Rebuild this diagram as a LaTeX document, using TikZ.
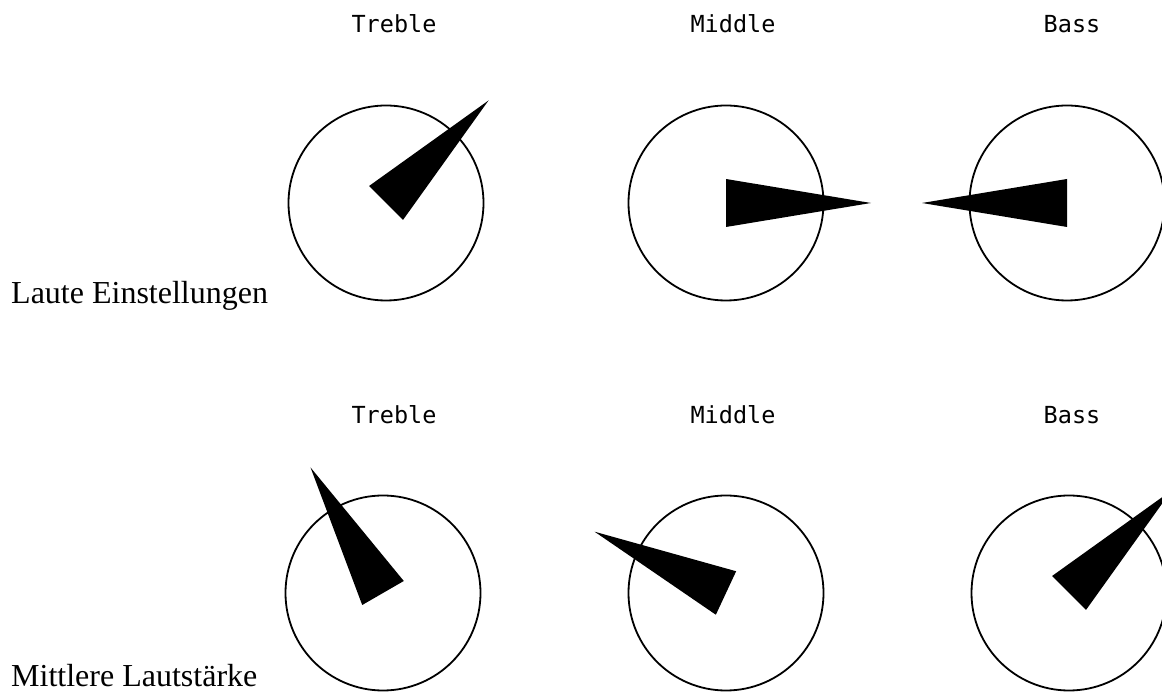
\documentclass[tikz,border=0pt]{standalone}
\usepackage{fontspec}
\setmainfont{Liberation Serif}
\newfontfamily\dialfont{DejaVu Sans Mono}
\usetikzlibrary{calc}
\tikzset{
  % ---- dials ------------------------------------------------------------
  knob/.style={circle, draw=black, line width=1.8pt, minimum size=195pt,
               inner sep=0pt},
  % ---- labels -----------------------------------------------------------
  dialname/.style={font=\dialfont\fontsize{23.5}{26}\selectfont,
                   inner sep=0pt, anchor=base},
  rowname/.style={font=\fontsize{32}{36}\selectfont,
                  inner sep=0pt, anchor=base west},
}
% needle: dial, angle
\newcommand{\needle}[2]{\fill ($(#1)+(#2+90:24)$) -- ($(#1)+(#2:145)$)
  -- ($(#1)+(#2-90:24)$) -- cycle;}

\begin{document}
\begin{tikzpicture}[x=1pt,y=1pt]

\useasboundingbox (0,0) rectangle (1162,693);

\def\YA{490}\def\YB{100}

% ---- loud settings --------------------------------------------------------
\node[knob] (lt) at (386,\YA) {};
\node[knob] (lm) at (726,\YA) {};
\node[knob] (lb) at (1067,\YA) {};
\needle{lt}{45}
\needle{lm}{0}
\needle{lb}{180}

\node[dialname] (ltn) at ($(lt)+(8,170)$) {Treble};
\node[dialname] (lmn) at ($(lm)+(7,170)$) {Middle};
\node[dialname] (lbn) at ($(lb)+(5,170)$) {Bass};
\node[rowname] (loud) at (11,389) {Laute Einstellungen};

% ---- medium volume --------------------------------------------------------
\node[knob] (mt) at (383,\YB) {};
\node[knob] (mm) at (726,\YB) {};
\node[knob] (mb) at (1069,\YB) {};
\needle{mt}{120}
\needle{mm}{155}
\needle{mb}{45}

\node[dialname] (mtn) at ($(mt)+(11,169)$) {Treble};
\node[dialname] (mmn) at ($(mm)+(7,169)$) {Middle};
\node[dialname] (mbn) at ($(mb)+(3,169)$) {Bass};
\node[rowname] (mid) at (11,6) {Mittlere Lautstärke};

\end{tikzpicture}
\end{document}
